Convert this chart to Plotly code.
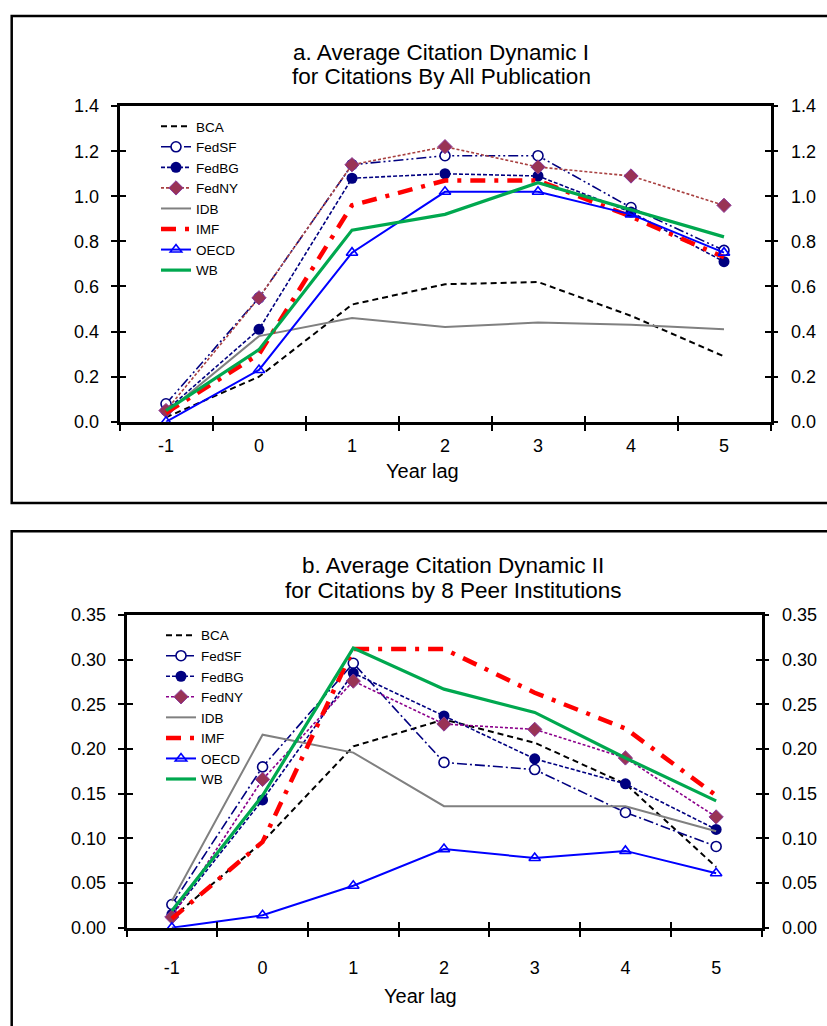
import plotly.graph_objects as go

W, H = 827, 1026

years = ["-1", "0", "1", "2", "3", "4", "5"]
series_names = ["BCA", "FedSF", "FedBG", "FedNY", "IDB", "IMF", "OECD", "WB"]

# Panel a: citations by all publications
bca_a = [0.02, 0.20, 0.52, 0.61, 0.62, 0.47, 0.29]
fedsf_a = [0.08, 0.55, 1.14, 1.18, 1.18, 0.95, 0.76]
fedbg_a = [0.05, 0.41, 1.08, 1.10, 1.09, 0.93, 0.71]
fedny_a = [0.05, 0.55, 1.14, 1.22, 1.13, 1.09, 0.96]
idb_a = [0.04, 0.38, 0.46, 0.42, 0.44, 0.43, 0.41]
imf_a = [0.04, 0.30, 0.96, 1.07, 1.07, 0.91, 0.73]
oecd_a = [0.00, 0.23, 0.75, 1.02, 1.02, 0.92, 0.75]
wb_a = [0.05, 0.32, 0.85, 0.92, 1.06, 0.94, 0.82]

# Panel b: citations by 8 peer institutions
bca_b = [0.011, 0.096, 0.203, 0.233, 0.207, 0.161, 0.068]
fedsf_b = [0.026, 0.180, 0.296, 0.185, 0.177, 0.129, 0.091]
fedbg_b = [0.015, 0.143, 0.285, 0.237, 0.189, 0.161, 0.110]
fedny_b = [0.012, 0.166, 0.276, 0.228, 0.222, 0.190, 0.124]
idb_b = [0.030, 0.216, 0.196, 0.136, 0.136, 0.136, 0.108]
imf_b = [0.010, 0.096, 0.312, 0.312, 0.263, 0.223, 0.148]
oecd_b = [0.000, 0.014, 0.047, 0.088, 0.078, 0.086, 0.061]
wb_b = [0.019, 0.148, 0.313, 0.267, 0.241, 0.190, 0.142]

ticks_a = [0.0, 0.2, 0.4, 0.6, 0.8, 1.0, 1.2, 1.4]
ticks_b = [0.0, 0.05, 0.10, 0.15, 0.20, 0.25, 0.30, 0.35]

title_a = ["a. Average Citation Dynamic I", "for Citations By All Publication"]
title_b = ["b. Average Citation Dynamic II", "for Citations by 8 Peer Institutions"]
xlabel = "Year lag"

FONT = "Liberation Sans, Arial, sans-serif"

def px_x(p):
    return p / W

def px_y(p):
    return 1 - p / H

def styles(panel):
    ny_line = "#A84040" if panel == "a" else "#8B008B"
    sf_dash = "10px,3px,2px,3px,2px,3px" if panel == "a" else "10px,3px,2px,3px"
    return {
        "BCA": dict(line=dict(color="black", width=2, dash="6px,4px"), mode="lines"),
        "FedSF": dict(line=dict(color="#000080", width=1.6, dash=sf_dash), mode="lines+markers",
                      marker=dict(symbol="circle", size=10, color="white",
                                  line=dict(color="#000080", width=1.6))),
        "FedBG": dict(line=dict(color="#000080", width=1.6, dash="4px,2px"), mode="lines+markers",
                      marker=dict(symbol="circle", size=11, color="#000080")),
        "FedNY": dict(line=dict(color=ny_line, width=1.6, dash="3px,2px"), mode="lines+markers",
                      marker=dict(symbol="diamond", size=11, color="#993355",
                                  line=dict(color="#8B3A9B", width=1))),
        "IDB": dict(line=dict(color="#808080", width=2), mode="lines"),
        "IMF": dict(line=dict(color="#FF0000", width=4.5, dash="15px,9px,4px,9px"), mode="lines"),
        "OECD": dict(line=dict(color="#0000FF", width=2), mode="lines+markers",
                     marker=dict(symbol="triangle-up-open", size=10, color="#0000FF",
                                 line=dict(color="#2244FF", width=1.6))),
        "WB": dict(line=dict(color="#00A84F", width=3.2), mode="lines"),
    }

data_a = [bca_a, fedsf_a, fedbg_a, fedny_a, idb_a, imf_a, oecd_a, wb_a]
data_b = [bca_b, fedsf_b, fedbg_b, fedny_b, idb_b, imf_b, oecd_b, wb_b]

fig = go.Figure()

for panel, data, xa, ya, leg in [("a", data_a, "x", "y", "legend"), ("b", data_b, "x2", "y2", "legend2")]:
    st = styles(panel)
    for name, vals in zip(series_names, data):
        s = st[name]
        fig.add_trace(go.Scatter(x=years, y=vals, name=name, xaxis=xa, yaxis=ya,
                                 legend=leg, cliponaxis=False, hoverinfo="skip", **s))

# invisible helper traces so overlay axes are built
for xa, ya in [("x", "y3"), ("x", "y5"), ("x3", "y"), ("x2", "y4"), ("x2", "y6"), ("x4", "y2")]:
    fig.add_trace(go.Scatter(x=years, y=[None] * len(years), xaxis=xa, yaxis=ya,
                             showlegend=False, hoverinfo="skip", mode="lines"))

dom_xa = [px_x(119.5), px_x(770.5)]
dom_ya = [px_y(420), px_y(98)]
dom_xb = [px_x(126.5), px_x(761.5)]
dom_yb = [px_y(936), px_y(617)]

tickfont = dict(family=FONT, size=18, color="black")

def xmain(dom, anchor, standoff):
    return dict(domain=dom, anchor=anchor, type="category", categoryorder="array",
                categoryarray=years, range=[-0.5, 6.5], tickson="boundaries",
                ticks="outside", ticklen=6, tickwidth=2, tickcolor="black",
                showline=True, linewidth=2.5, linecolor="black", mirror=True,
                showgrid=False, zeroline=False, tickfont=tickfont,
                ticklabelstandoff=standoff)

def xin(dom, anchor, over):
    return dict(domain=dom, anchor=anchor, overlaying=over, type="category",
                categoryorder="array", categoryarray=years, range=[-0.5, 6.5],
                tickson="boundaries", ticks="inside", ticklen=6, tickwidth=2,
                tickcolor="black", showticklabels=False, showline=False,
                showgrid=False, zeroline=False)

def ymain(dom, anchor, tv, fmt):
    return dict(domain=dom, anchor=anchor, range=[tv[0], tv[-1]], tickmode="array",
                tickvals=tv, tickformat=fmt, ticks="outside", ticklen=6, tickwidth=2,
                tickcolor="black", showline=True, linewidth=2.5, linecolor="black",
                mirror=True, showgrid=False, zeroline=False, tickfont=tickfont,
                ticklabelstandoff=8)

def yright(anchor, over, tv, fmt):
    return dict(anchor=anchor, overlaying=over, side="right", range=[tv[0], tv[-1]],
                tickmode="array", tickvals=tv, tickformat=fmt, ticks="outside",
                ticklen=6, tickwidth=2, tickcolor="black", showline=False,
                showgrid=False, zeroline=False, tickfont=tickfont, ticklabelstandoff=10)

def yin(anchor, over, tv):
    return dict(anchor=anchor, overlaying=over, side="left", range=[tv[0], tv[-1]],
                tickmode="array", tickvals=tv, ticks="inside", ticklen=6, tickwidth=2,
                tickcolor="black", mirror="allticks", showline=False,
                showticklabels=False, showgrid=False, zeroline=False)

legfont = dict(family=FONT, size=13.5, color="black")

fig.update_layout(
    width=W, height=H,
    margin=dict(l=0, r=0, t=0, b=0),
    paper_bgcolor="white", plot_bgcolor="white",
    font=dict(family=FONT, color="black"),
    xaxis=xmain(dom_xa, "y", 6),
    xaxis2=xmain(dom_xb, "y2", 22),
    xaxis3=xin(dom_xa, "y", "x"),
    xaxis4=xin(dom_xb, "y2", "x2"),
    yaxis=ymain(dom_ya, "x", ticks_a, ".1f"),
    yaxis2=ymain(dom_yb, "x2", ticks_b, ".2f"),
    yaxis3=yright("x", "y", ticks_a, ".1f"),
    yaxis4=yright("x2", "y2", ticks_b, ".2f"),
    yaxis5=yin("x", "y", ticks_a),
    yaxis6=yin("x2", "y2", ticks_b),
    legend=dict(x=px_x(156), y=px_y(103), xanchor="left", yanchor="top",
                bgcolor="rgba(0,0,0,0)", font=legfont, tracegroupgap=0),
    legend2=dict(x=px_x(161), y=px_y(622), xanchor="left", yanchor="top",
                 bgcolor="rgba(0,0,0,0)", font=legfont, tracegroupgap=0),
    showlegend=True,
)

shapes = [
    dict(type="rect", xref="paper", yref="paper", x0=px_x(11.7), x1=1.05,
         y0=px_y(502.7), y1=px_y(6), line=dict(color="black", width=2.5),
         fillcolor="rgba(0,0,0,0)", layer="below"),
    dict(type="rect", xref="paper", yref="paper", x0=px_x(11.7), x1=1.05,
         y0=-0.05, y1=px_y(531.7), line=dict(color="black", width=2.5),
         fillcolor="rgba(0,0,0,0)", layer="below"),
]
fig.update_layout(shapes=shapes)

titlefont = dict(family=FONT, size=22.5, color="black")
ann = []
for txt, yy in zip(title_a, [43, 68]):
    ann.append(dict(text=txt, x=px_x(441), y=px_y(yy), xref="paper", yref="paper",
                    showarrow=False, xanchor="center", yanchor="middle", font=titlefont))
for txt, yy in zip(title_b, [567, 592]):
    ann.append(dict(text=txt, x=px_x(453), y=px_y(yy), xref="paper", yref="paper",
                    showarrow=False, xanchor="center", yanchor="middle", font=titlefont))
ann.append(dict(text=xlabel, x=px_x(423), y=px_y(470), xref="paper", yref="paper",
                showarrow=False, xanchor="center", yanchor="middle",
                font=dict(family=FONT, size=20, color="black")))
ann.append(dict(text=xlabel, x=px_x(420), y=px_y(1006), xref="paper", yref="paper",
                showarrow=False, xanchor="center", yanchor="middle",
                font=dict(family=FONT, size=20, color="black")))
fig.update_layout(annotations=ann)

fig.write_html("out.html")
